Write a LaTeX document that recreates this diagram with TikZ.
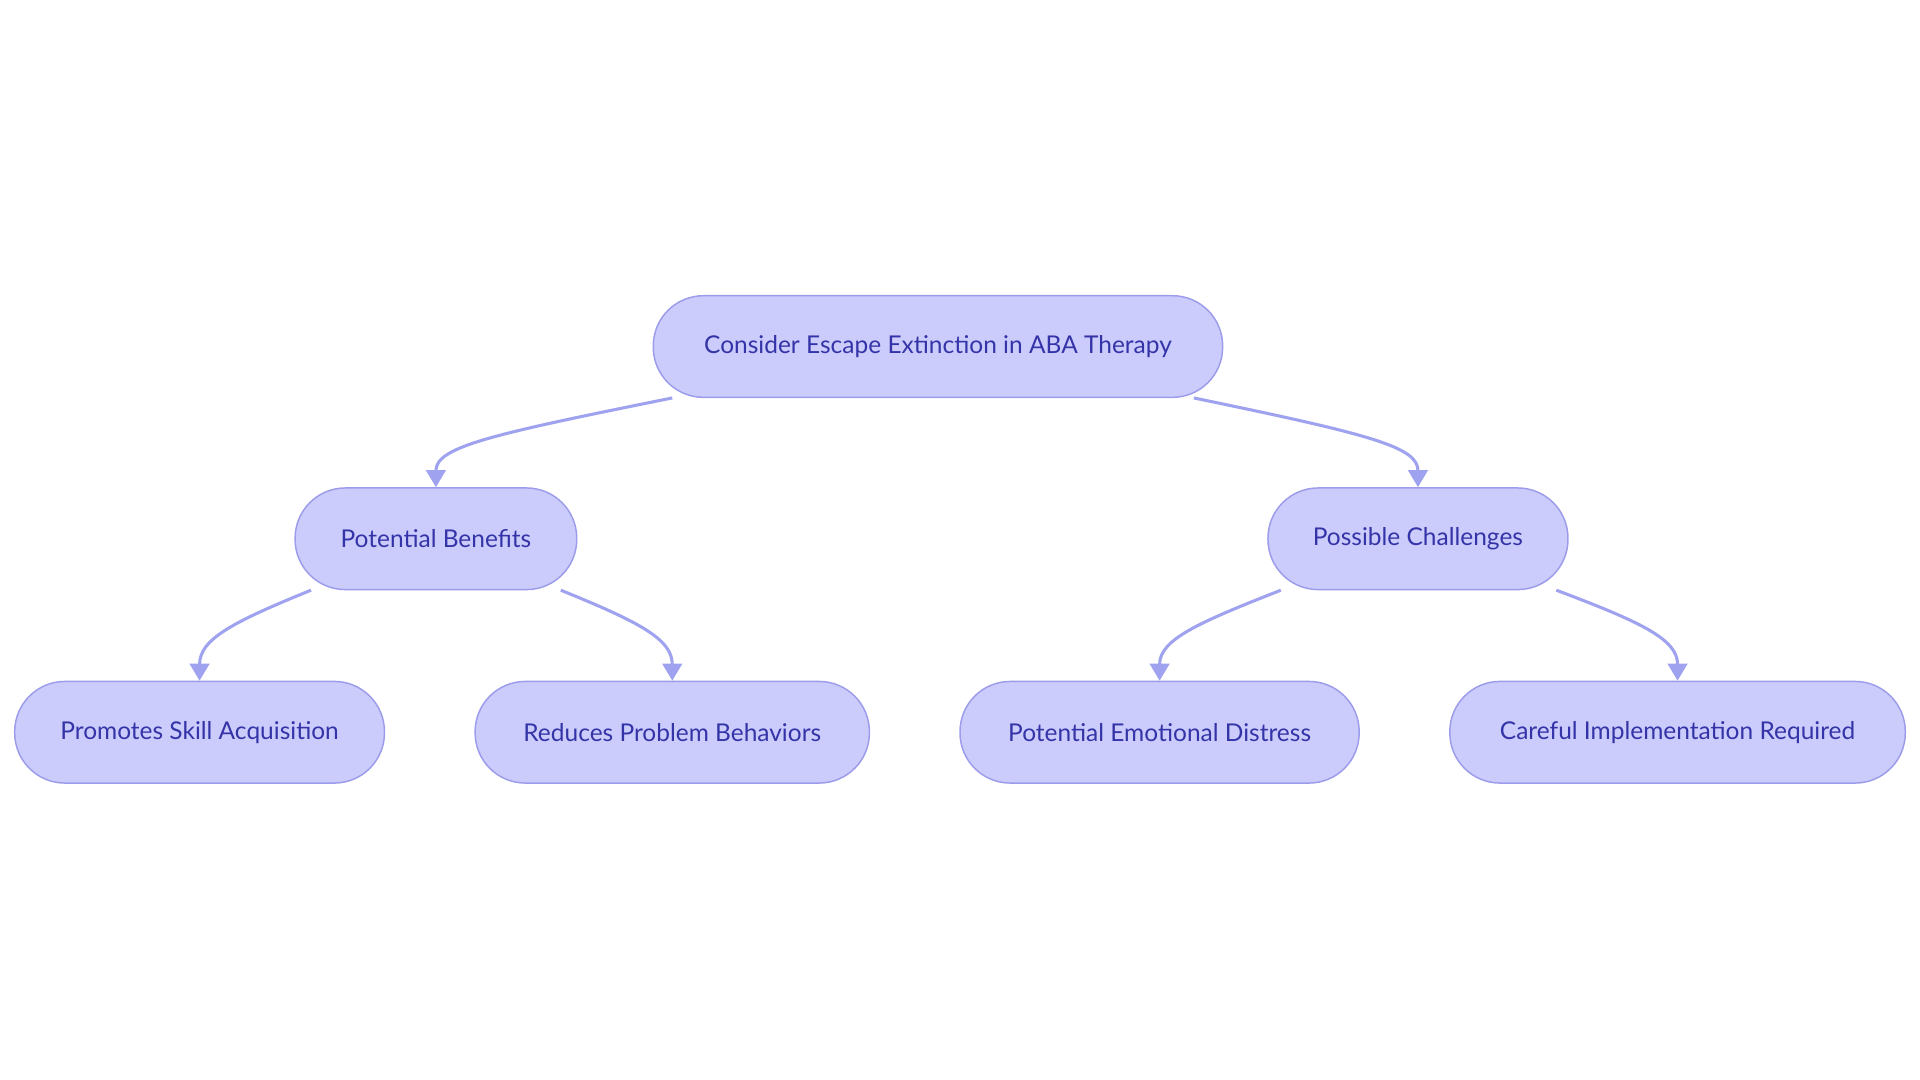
\documentclass[tikz,border=0pt]{standalone}
\usepackage{fontspec}
\setmainfont{Lato}
\usetikzlibrary{arrows.meta}
\definecolor{nf}{HTML}{CBCCFC}
\definecolor{nd}{HTML}{9C9CEA}
\definecolor{tx}{HTML}{3434A8}
\definecolor{ed}{HTML}{9FA2EE}
\begin{document}
\begin{tikzpicture}[x=1pt,y=-1pt,
 box/.style={draw=nd,fill=nf,line width=1.2pt,rounded corners=41pt,minimum height=83pt,inner sep=0pt,text=tx,font=\fontsize{20}{24}\selectfont},
 ed/.style={draw=ed,line width=2.5pt,-{Triangle[length=14pt,width=16pt]}}]
\useasboundingbox (0,0) rectangle (1568,882);
\node[box,minimum width=465pt] (root) at (766,283) {Consider Escape Extinction in ABA Therapy};
\node[box,minimum width=230pt] (ben) at (356,440) {Potential Benefits};
\node[box,minimum width=245pt] (cha) at (1158,440) {Possible Challenges};
\node[box,minimum width=302pt] (s1) at (163,598) {Promotes Skill Acquisition};
\node[box,minimum width=322pt] (s2) at (549,598) {Reduces Problem Behaviors};
\node[box,minimum width=326pt] (s3) at (947,598) {Potential Emotional Distress};
\node[box,minimum width=372pt] (s4) at (1370,598) {Careful Implementation Required};
\coordinate (r1) at (549,325); \coordinate (r2) at (975,325);
\coordinate (b1) at (254,482); \coordinate (b2) at (458,482);
\coordinate (c1) at (1046,482); \coordinate (c2) at (1271,482);
\draw[ed] (r1) .. controls (400,355) and (356,365) .. (ben.north);
\draw[ed] (r2) .. controls (1120,355) and (1158,365) .. (cha.north);
\draw[ed] (b1) .. controls (190,508) and (163,522) .. (s1.north);
\draw[ed] (b2) .. controls (522,508) and (549,522) .. (s2.north);
\draw[ed] (c1) .. controls (980,508) and (947,522) .. (s3.north);
\draw[ed] (c2) .. controls (1340,508) and (1370,522) .. (s4.north);
\end{tikzpicture}
\end{document}
